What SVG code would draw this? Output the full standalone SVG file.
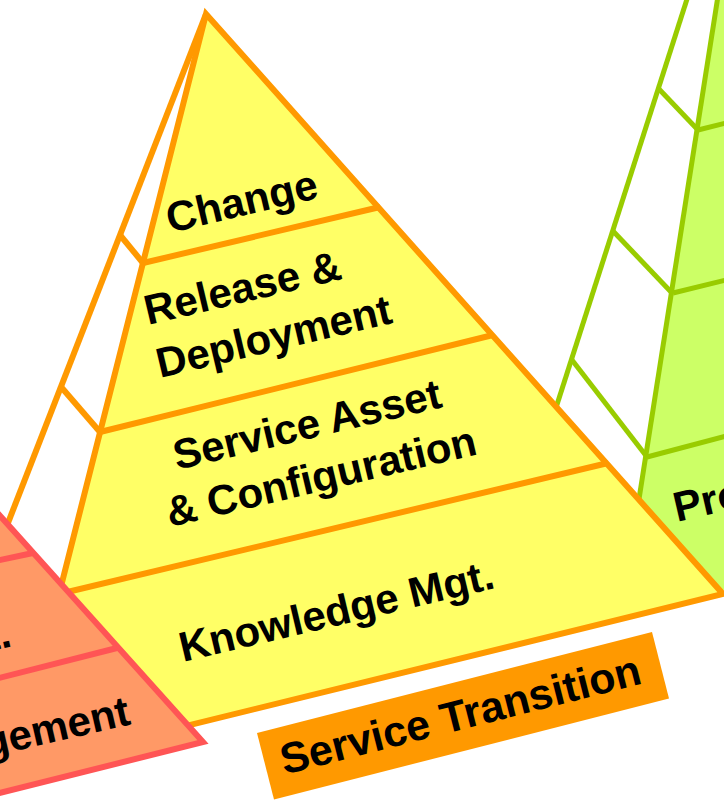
<svg xmlns="http://www.w3.org/2000/svg" width="724" height="801" viewBox="0 0 724 801">
<style>
.lbl{font-family:"Liberation Sans",Arial,sans-serif;font-weight:bold;font-size:42px;fill:#000}
.ys{stroke:#FF9900;stroke-width:6;stroke-linejoin:miter}
.gs{stroke:#99CC00;stroke-width:5}
.rs{stroke:#FF5555;stroke-width:6}
.yf{fill:#FFFF66}
.rf{fill:#FF9966}
.gf{fill:#CCFF66}
</style>
<rect x="0" y="0" width="724" height="801" fill="#FFFFFF"/>
<g id="green-pyramid">
<polygon class="gf" points="718,-4 740,-4 740,585 620,620"/>
<line class="gs" x1="718" y1="-4" x2="620" y2="620"/>
<line class="gs" x1="688" y1="-4" x2="520" y2="520"/>
<line class="gs" x1="658" y1="88" x2="698" y2="130"/>
<line class="gs" x1="612" y1="230" x2="672" y2="293"/>
<line class="gs" x1="572" y1="360" x2="647" y2="457"/>
<line class="gs" x1="698" y1="130" x2="730" y2="122"/>
<line class="gs" x1="673" y1="293" x2="730" y2="279"/>
<line class="gs" x1="647" y1="457" x2="730" y2="435"/>
<text class="lbl" transform="translate(677,522) rotate(-13)">Pro</text>
</g>
<g id="yellow-pyramid">
<line class="ys" x1="206" y1="14" x2="-22" y2="600"/>
<line class="ys" x1="120" y1="235" x2="143" y2="263"/>
<line class="ys" x1="62" y1="388" x2="100" y2="432"/>
<polygon class="ys yf" points="206,14 723,594 15,768"/>
<line class="ys" x1="143" y1="263" x2="380" y2="207"/>
<line class="ys" x1="100" y1="432" x2="493" y2="335"/>
<line class="ys" x1="59" y1="594" x2="608" y2="463"/>
<text class="lbl" transform="translate(170,233) rotate(-13.3)">Change</text>
<text class="lbl" transform="translate(148,325) rotate(-13.3)">Release &amp;</text>
<text class="lbl" transform="translate(160,378) rotate(-13.3)">Deployment</text>
<text class="lbl" transform="translate(177,470) rotate(-13.3)">Service Asset</text>
<text class="lbl" transform="translate(170,527) rotate(-13.3)">&amp; Configuration</text>
<text class="lbl" transform="translate(183,662) rotate(-13.3)">Knowledge Mgt.</text>
</g>
<g id="red-pyramid">
<polygon class="rs rf" points="-60,449 203,742 -60,808"/>
<line class="rs" x1="-5" y1="561" x2="33" y2="553"/>
<line class="rs" x1="-5" y1="679" x2="117" y2="648"/>
<text class="lbl" text-anchor="end" transform="translate(13,646) rotate(-13)">t.</text>
<text class="lbl" text-anchor="end" transform="translate(132,724) rotate(-13)">gement</text>
</g>
<g id="label">
<polygon points="257,733 652,632 669,698.5 274,799.5" fill="#FF9900"/>
<text class="lbl" text-anchor="middle" style="font-size:43px" transform="translate(464,729) rotate(-14.3)">Service Transition</text>
</g>
</svg>
